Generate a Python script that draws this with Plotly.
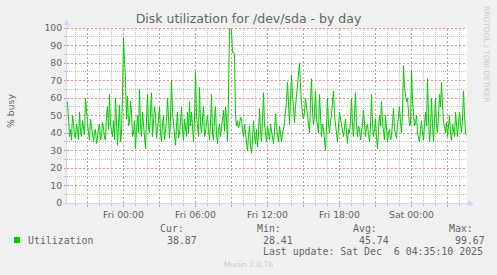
import math
import pandas as pd
import plotly.graph_objects as go

# ---- data ----
start_time = "2025-12-04 19:20:00"
step = "5min"
view_start = "2025-12-04 19:17:30"
view_end = "2025-12-06 04:37:30"

utilization = [
    58, 44, 38, 42, 36, 50, 46, 38, 37, 45, 42, 36, 52, 41, 38, 47, 44, 39, 60, 50,
    46, 40, 36, 48, 44, 38, 35, 41, 42, 34, 37, 43, 45, 36, 38, 46, 43, 37, 36, 50,
    55, 42, 62, 45, 40, 38, 47, 36, 60, 42, 33, 45, 56, 35, 40, 62, 94, 82, 70, 48,
    61, 44, 46, 58, 52, 38, 40, 47, 31, 42, 50, 40, 65, 45, 38, 52, 44, 36, 31, 48,
    62, 43, 40, 52, 63, 38, 45, 55, 50, 37, 42, 48, 55, 40, 35, 45, 50, 36, 40, 47,
    60, 42, 37, 48, 70, 52, 45, 38, 33, 44, 52, 37, 40, 46, 55, 42, 36, 48, 44, 38,
    52, 40, 58, 44, 52, 41, 35, 48, 75, 50, 42, 38, 66, 45, 40, 50, 55, 38, 40, 46,
    50, 42, 36, 45, 62, 40, 36, 48, 55, 39, 34, 42, 45, 38, 42, 47, 53, 41, 55, 48,
    35, 62, 99.67, 99.5, 99, 86, 86, 85, 50, 44, 47, 43, 45, 49, 48, 42, 38, 45, 40, 36,
    30, 38, 44, 33, 28.41, 36, 47, 38, 34, 42, 32, 40, 54, 42, 35, 48, 63, 45, 40, 35,
    44, 38, 36, 45, 42, 37, 34, 41, 51, 43, 38, 35, 44, 39, 35, 40, 42, 46, 52, 58,
    69, 55, 45, 60, 73, 62, 50, 46, 55, 62, 70, 75, 80, 66, 55, 50, 48, 52, 60, 54,
    48, 44, 40, 58, 71, 52, 45, 50, 64, 48, 45, 40, 62, 46, 38, 45, 42, 36, 30, 44,
    60, 45, 40, 47, 50, 58, 64, 50, 45, 40, 35, 44, 52, 48, 45, 40, 38, 43, 48, 40,
    34, 42, 40, 47, 60, 44, 38, 50, 63, 45, 38, 44, 42, 36, 40, 45, 53, 42, 38, 44,
    45, 39, 35, 44, 62, 45, 38, 42, 48, 37, 31, 42, 50, 44, 58, 46, 40, 36, 50, 42,
    35, 40, 42, 36, 38, 46, 54, 42, 40, 37, 44, 48, 55, 46, 40, 52, 78.5, 66, 62, 58,
    60, 50, 44, 45, 76, 58, 48, 44, 46, 50, 40, 38, 35, 42, 47, 40, 36, 45, 52, 44,
    71, 48, 35, 42, 60, 44, 35, 48, 60, 45, 40, 50, 62, 55, 69, 56, 46, 44, 40, 46,
    38, 44, 50, 40, 36, 45, 42, 38, 52, 44, 38, 46, 52, 45, 40, 48, 64, 50, 40, 38.87,
]

x_tick_vals = [
    "2025-12-04 21:00", "2025-12-05 00:00", "2025-12-05 03:00",
    "2025-12-05 06:00", "2025-12-05 09:00", "2025-12-05 12:00",
    "2025-12-05 15:00", "2025-12-05 18:00", "2025-12-05 21:00",
    "2025-12-06 00:00", "2025-12-06 03:00",
]
x_tick_text = ["", "Fri 00:00", "", "Fri 06:00", "", "Fri 12:00",
               "", "Fri 18:00", "", "Sat 00:00", ""]
y_major = list(range(0, 101, 10))
y_minor = list(range(5, 100, 10))

legend_label = "Utilization"
stat_names = ["Cur:", "Min:", "Avg:", "Max:"]
stat_values = ["38.87", "28.41", "45.74", "99.67"]
last_update = "Last update: Sat Dec \u00a06 04:35:10 2025"

times = pd.date_range(start_time, periods=len(utilization), freq=step)
major_set = set(pd.to_datetime(x_tick_vals))
hours = pd.date_range("2025-12-04 20:00", "2025-12-06 04:00", freq="1h")
x_minor = [t.strftime("%Y-%m-%d %H:%M") for t in hours if t not in major_set]

# ---- styling ----
W, H = 497, 275
L, R, T, B = 67, 30, 28, 72
PW, PH = W - L - R, H - T - B
FONT = "#666666"
GREEN = "#00CC00"
AXIS = "#CFD6F8"
MGRID = "#F09090"
GRID = "#C4C4C4"
MDASH = "2px,2px"
DASH = "1px,1px"
Y_MAX = 100


def px(x):
    return (x - L) / PW


def py(y):
    return (T + PH - y) / PH


fig = go.Figure()
fig.add_trace(go.Scatter(x=times, y=utilization, mode="lines",
                         line=dict(color=GREEN, width=1), hoverinfo="skip",
                         showlegend=False))

fig.update_layout(
    width=W, height=H,
    margin=dict(l=L, r=R, t=T, b=B, pad=0),
    paper_bgcolor="#F0F0F0", plot_bgcolor="#FFFFFF",
    font=dict(family="DejaVu Sans", color=FONT, size=9.3),
    title=dict(text="Disk utilization for /dev/sda - by day",
               x=0.5, xref="container", xanchor="center",
               y=1 - 18.5 / H, yref="container", yanchor="middle",
               font=dict(size=12.5, color=FONT, family="DejaVu Sans")),
)

fig.update_xaxes(
    type="date", range=[view_start, view_end],
    tickmode="array", tickvals=x_tick_vals, ticktext=x_tick_text,
    showgrid=False, ticks="outside", ticklen=3, tickcolor=MGRID, tickwidth=1,
    showline=False, zeroline=False,
    tickfont=dict(size=9.3, color=FONT),
    minor=dict(tickmode="array", tickvals=x_minor, showgrid=False,
               ticks="outside", ticklen=2, tickcolor=GRID),
)

fig.update_yaxes(
    range=[0, Y_MAX], tickmode="array", tickvals=y_major,
    showgrid=False, ticks="outside", ticklen=2, tickcolor=MGRID,
    showline=False, zeroline=False,
    tickfont=dict(size=9.3, color=FONT),
    minor=dict(tickmode="array", tickvals=y_minor, showgrid=False,
               ticks="outside", ticklen=2, tickcolor=GRID),
)

shapes = []
# dotted grid (drawn as shapes so the colours survive)
for t in hours:
    major = t in major_set
    shapes.append(dict(type="line", xref="x", yref="paper",
                       x0=t, x1=t, y0=0, y1=1, layer="below",
                       line=dict(color=MGRID if major else GRID,
                                 width=1, dash=MDASH if major else DASH)))
for v in sorted(y_major[1:] + y_minor):
    major = v in y_major
    row = math.floor(T + PH - PH * v / Y_MAX) + 0.5
    shapes.append(dict(type="line", xref="paper", yref="paper",
                       x0=0, x1=1, y0=py(row), y1=py(row), layer="below",
                       line=dict(color=MGRID if major else GRID,
                                 width=1, dash=MDASH if major else DASH)))
shapes += [
    # y axis line + arrow
    dict(type="line", xref="paper", yref="paper",
         x0=px(66.5), x1=px(66.5), y0=py(205), y1=py(24),
         line=dict(color=AXIS, width=1)),
    dict(type="path", xref="paper", yref="paper",
         path=f"M {px(66.5)} {py(19)} L {px(63.5)} {py(25)} L {px(69.5)} {py(25)} Z",
         fillcolor=AXIS, line=dict(color=AXIS, width=0)),
    # x axis line + arrow
    dict(type="line", xref="paper", yref="paper",
         x0=px(63), x1=px(469), y0=py(203.5), y1=py(203.5),
         line=dict(color=AXIS, width=1)),
    dict(type="path", xref="paper", yref="paper",
         path=f"M {px(474)} {py(203.5)} L {px(468)} {py(200.5)} L {px(468)} {py(206.5)} Z",
         fillcolor=AXIS, line=dict(color=AXIS, width=0)),
    # legend colour box
    dict(type="rect", xref="paper", yref="paper",
         x0=px(14), x1=px(20), y0=py(243), y1=py(237),
         fillcolor=GREEN, line=dict(width=0)),
]
fig.update_layout(shapes=shapes)

MONO = dict(family="DejaVu Sans Mono", size=9.9, color=FONT)
ann = []


def text(x, y, s, font, xanchor="left", angle=0):
    ann.append(dict(x=px(x), y=py(y), xref="paper", yref="paper", text=s,
                    showarrow=False, xanchor=xanchor, yanchor="middle",
                    textangle=angle, font=font))


text(10, 111, "% busy", dict(family="DejaVu Sans", size=9.3, color=FONT),
     xanchor="center", angle=-90)
text(487, 54, "RRDTOOL / TOBI OETIKER",
     dict(family="DejaVu Sans", size=7.5, color="#CCCCCC"),
     xanchor="center", angle=90)
text(26, 240, legend_label, MONO)
name_x = [158.3, 254.7, 351, 447]
val_x = [164.5, 260.5, 356.7, 453]
for nx, vx, n, v in zip(name_x, val_x, stat_names, stat_values):
    text(nx, 228, n, MONO)
    text(vx, 240, v, MONO)
text(261.3, 251.5, last_update, MONO)
text(248, 264, "Munin 2.0.76",
     dict(family="DejaVu Sans", size=7.5, color="#CCCCCC"), xanchor="center")
fig.update_layout(annotations=ann)

fig.write_html("out.html")
